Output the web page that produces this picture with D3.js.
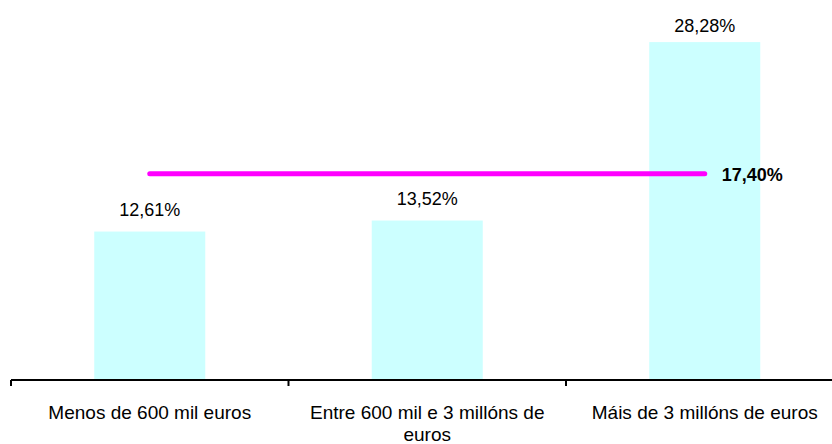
<!DOCTYPE html>
<html>
<head>
<meta charset="utf-8">
<script src="https://cdn.jsdelivr.net/npm/d3@7"></script>
<style>
  body { margin: 0; background: #fff; }
  svg text { font-family: "Liberation Sans", Arial, sans-serif; fill: #000; }
</style>
</head>
<body>
<div id="chart"></div>
<script>
// data
var categories = ["Menos de 600 mil euros", "Entre 600 mil e 3 millóns de euros", "Máis de 3 millóns de euros"];
var values = [12.61, 13.52, 28.28];
var valueLabels = ["12,61%", "13,52%", "28,28%"];
var average = 17.40;
var averageLabel = "17,40%";

var width = 832, height = 444;
var axisY = 380;

var svg = d3.select("#chart")
  .append("svg")
    .attr("width", width)
    .attr("height", height);

// x scale, bands spill past the right edge like the original
var x = d3.scaleBand()
  .domain(categories)
  .range([11, 843.5])
  .paddingInner(0.6)
  .paddingOuter(0.3);

// y scale
var y = d3.scaleLinear()
  .domain([0, 30])
  .range([384, 384 - 30 * 12.09]);

// bars
svg.selectAll("rect.bar")
  .data(values)
  .enter()
  .append("rect")
    .attr("class", "bar")
    .attr("x", function(d, i) { return x(categories[i]); })
    .attr("y", function(d) { return y(d); })
    .attr("width", x.bandwidth())
    .attr("height", function(d) { return axisY - y(d); })
    .attr("fill", "#ccffff");

// value labels
svg.selectAll("text.val")
  .data(values)
  .enter()
  .append("text")
    .attr("class", "val")
    .attr("x", function(d, i) { return x(categories[i]) + x.bandwidth() / 2; })
    .attr("y", function(d) { return Math.max(y(d) - 16, 32); })
    .attr("text-anchor", "middle")
    .style("font-size", "18px")
    .text(function(d, i) { return valueLabels[i]; });

// average line
var cx = function(c) { return x(c) + x.bandwidth() / 2; };
svg.append("line")
  .attr("x1", cx(categories[0]))
  .attr("x2", cx(categories[categories.length - 1]))
  .attr("y1", y(average))
  .attr("y2", y(average))
  .attr("stroke", "#ff00ff")
  .attr("stroke-width", 5)
  .attr("stroke-linecap", "round");

svg.append("text")
  .attr("x", cx(categories[categories.length - 1]) + 17)
  .attr("y", y(average) + 7)
  .style("font-size", "18px")
  .style("font-weight", "bold")
  .text(averageLabel);

// x axis
var axis = svg.append("g")
  .attr("transform", "translate(0," + axisY + ")")
  .call(d3.axisBottom(x).tickSize(0).tickFormat(""));
axis.select(".domain").remove();
axis.append("line")
  .attr("x1", 11).attr("x2", width)
  .attr("stroke", "#000").attr("stroke-width", 2);

var step = x.step();
var bounds = d3.range(categories.length + 1).map(function(i) { return 11 + i * step; });
axis.selectAll("line.tk")
  .data(bounds)
  .enter()
  .append("line")
    .attr("class", "tk")
    .attr("x1", function(d) { return d; })
    .attr("x2", function(d) { return d; })
    .attr("y1", 0)
    .attr("y2", 6)
    .attr("stroke", "#000")
    .attr("stroke-width", 2);

// category labels, wrapped
function wrap(text, maxW) {
  text.each(function() {
    var t = d3.select(this),
        words = t.text().split(/\s+/),
        line = [],
        lineNo = 0,
        xx = t.attr("x"),
        tspan = t.text(null).append("tspan").attr("x", xx).attr("dy", 0);
    words.forEach(function(w) {
      line.push(w);
      tspan.text(line.join(" "));
      if (tspan.node().getComputedTextLength() > maxW && line.length > 1) {
        line.pop();
        tspan.text(line.join(" "));
        line = [w];
        lineNo++;
        tspan = t.append("tspan").attr("x", xx).attr("dy", "22px").text(w);
      }
    });
  });
}

svg.selectAll("text.cat")
  .data(categories)
  .enter()
  .append("text")
    .attr("class", "cat")
    .attr("x", function(d) { return cx(d); })
    .attr("y", 419)
    .attr("text-anchor", "middle")
    .style("font-size", "19px")
    .text(function(d) { return d; })
    .call(wrap, step - 10);
</script>
</body>
</html>
